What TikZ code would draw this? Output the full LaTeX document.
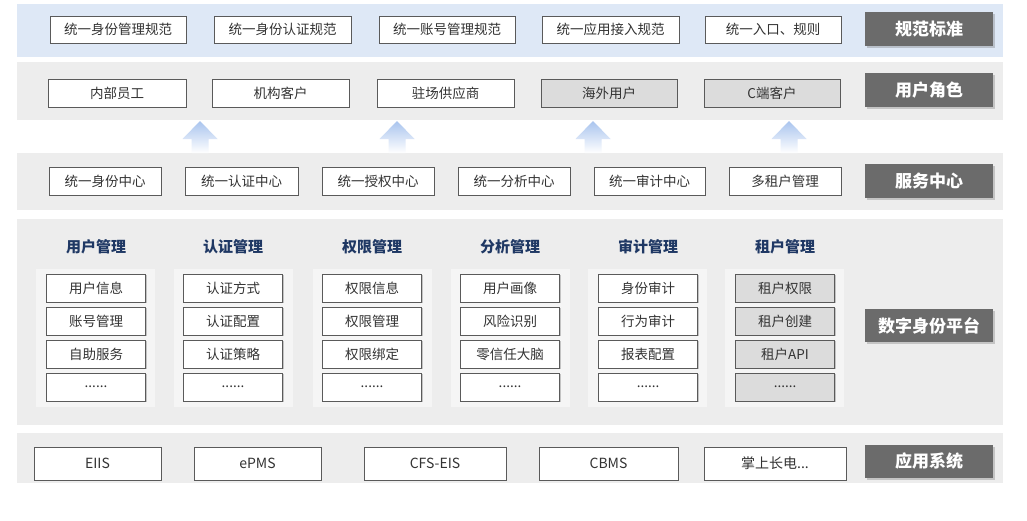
\documentclass[tikz,border=0pt]{standalone}
\usepackage{fontspec}
\setmainfont{Noto Sans CJK SC}
\usetikzlibrary{shadows}
\definecolor{bandblue}{HTML}{DEE8F6}
\definecolor{bandgray}{HTML}{EDEDED}
\definecolor{panelc}{HTML}{F5F5F5}
\definecolor{labelc}{HTML}{6B6B6B}
\definecolor{headc}{HTML}{1F3864}
\definecolor{boxline}{HTML}{5A5A5A}
\definecolor{grayfill}{HTML}{DCDCDC}
\definecolor{arrowc}{HTML}{A9C4EE}
\tikzset{
  bx/.style={draw=boxline, line width=0.8pt, fill=white, minimum height=28pt, inner sep=0pt,
    font=\fontsize{13.5}{15}\selectfont, text=black!80,
    drop shadow={shadow xshift=1.2pt, shadow yshift=-1.2pt, opacity=0.35, fill=black!60}},
  gbx/.style={bx, fill=grayfill},
  abx/.style={bx, minimum height=33pt, font=\fontsize{14}{16}\selectfont},
  lbl/.style={fill=labelc, text=white, minimum width=128pt, minimum height=34pt, inner sep=0pt,
    font=\fontsize{17}{19}\bfseries\selectfont,
    drop shadow={shadow xshift=1.5pt, shadow yshift=-1.5pt, opacity=0.3, fill=black!60}},
  head/.style={text=headc, font=\fontsize{15}{17}\bfseries\selectfont, inner sep=0pt},
  uparrow/.style={top color=arrowc, bottom color=white, draw=none}
}
\begin{document}
\begin{tikzpicture}[x=1pt,y=-1pt]
\useasboundingbox (0,0) rectangle (1027,520);
\fill[white] (0,0) rectangle (1027,520);
% bands
\fill[bandblue] (17,4) rectangle (1003,57);
\fill[bandgray] (17,62) rectangle (1003,120);
\fill[bandgray] (17,153) rectangle (1003,210);
\fill[bandgray] (17,219) rectangle (1003,425);
\fill[bandgray] (17,433) rectangle (1003,483);
% arrows
\foreach \cx in {200,397,593,789}{
  \shade[uparrow] (\cx,121) -- (\cx+17.5,139) -- (\cx+8.5,139) -- (\cx+8.5,153)
     -- (\cx-8.5,153) -- (\cx-8.5,139) -- (\cx-17.5,139) -- cycle;
}
% row 1
\node[bx, minimum width=136pt, minimum height=27pt] (s1) at (118,29.5) {统一身份管理规范};
\node[bx, minimum width=137pt, minimum height=27pt] (s2) at (282.5,29.5) {统一身份认证规范};
\node[bx, minimum width=136pt, minimum height=27pt] (s3) at (447,29.5) {统一账号管理规范};
\node[bx, minimum width=137pt, minimum height=27pt] (s4) at (610.5,29.5) {统一应用接入规范};
\node[bx, minimum width=136pt, minimum height=27pt] (s5) at (773,29.5) {统一入口、规则};
\node[lbl] (L1) at (929,29) {规范标准};
% row 2
\node[bx, minimum width=138pt] (u1) at (117,93) {内部员工};
\node[bx, minimum width=137pt] (u2) at (280.5,93) {机构客户};
\node[bx, minimum width=137pt] (u3) at (445.5,93) {驻场供应商};
\node[gbx, minimum width=136pt] (u4) at (609,93) {海外用户};
\node[gbx, minimum width=136pt] (u5) at (772,93) {C端客户};
\node[lbl] (L2) at (929,90) {用户角色};
% row 3
\node[bx, minimum width=112pt] (c1) at (105,181) {统一身份中心};
\node[bx, minimum width=113pt] (c2) at (241.5,181) {统一认证中心};
\node[bx, minimum width=112pt] (c3) at (378,181) {统一授权中心};
\node[bx, minimum width=112pt] (c4) at (514,181) {统一分析中心};
\node[bx, minimum width=111pt] (c5) at (649.5,181) {统一审计中心};
\node[bx, minimum width=112pt] (c6) at (785,181) {多租户管理};
\node[lbl] (L3) at (929,181) {服务中心};
% row 4 panels
\foreach \cx in {95.5,233,372.5,510,647.5,784.5}{
  \fill[panelc] (\cx-59.5,269) rectangle (\cx+59.5,407);
}
\node[head] (h1) at (96,247) {用户管理};
\node[head] (h2) at (233,247) {认证管理};
\node[head] (h3) at (372,247) {权限管理};
\node[head] (h4) at (510,247) {分析管理};
\node[head] (h5) at (648,247) {审计管理};
\node[head] (h6) at (785,247) {租户管理};
\node[bx, minimum width=99pt] (a1) at (96,288) {用户信息};
\node[bx, minimum width=99pt] (a2) at (96,321) {账号管理};
\node[bx, minimum width=99pt] (a3) at (96,354) {自助服务};
\node[bx, minimum width=99pt] (a4) at (96,387) {......};
\node[bx, minimum width=99pt] (b1) at (233,288) {认证方式};
\node[bx, minimum width=99pt] (b2) at (233,321) {认证配置};
\node[bx, minimum width=99pt] (b3) at (233,354) {认证策略};
\node[bx, minimum width=99pt] (b4) at (233,387) {......};
\node[bx, minimum width=99pt] (p1) at (372,288) {权限信息};
\node[bx, minimum width=99pt] (p2) at (372,321) {权限管理};
\node[bx, minimum width=99pt] (p3) at (372,354) {权限绑定};
\node[bx, minimum width=99pt] (p4) at (372,387) {......};
\node[bx, minimum width=99pt] (n1) at (510,288) {用户画像};
\node[bx, minimum width=99pt] (n2) at (510,321) {风险识别};
\node[bx, minimum width=99pt] (n3) at (510,354) {零信任大脑};
\node[bx, minimum width=99pt] (n4) at (510,387) {......};
\node[bx, minimum width=99pt] (d1) at (648,288) {身份审计};
\node[bx, minimum width=99pt] (d2) at (648,321) {行为审计};
\node[bx, minimum width=99pt] (d3) at (648,354) {报表配置};
\node[bx, minimum width=99pt] (d4) at (648,387) {......};
\node[gbx, minimum width=99pt] (t1) at (785,288) {租户权限};
\node[gbx, minimum width=99pt] (t2) at (785,321) {租户创建};
\node[gbx, minimum width=99pt] (t3) at (785,354) {租户API};
\node[gbx, minimum width=99pt] (t4) at (785,387) {......};
\node[lbl, minimum height=33pt] (L4) at (929,325.5) {数字身份平台};
% row 5
\node[abx, minimum width=127pt] (e1) at (97.5,463.5) {EIIS};
\node[abx, minimum width=127pt] (e2) at (257.5,463.5) {ePMS};
\node[abx, minimum width=142pt] (e3) at (435,463.5) {CFS-EIS};
\node[abx, minimum width=139pt] (e4) at (608.5,463.5) {CBMS};
\node[abx, minimum width=142pt] (e5) at (775,463.5) {掌上长电...};
\node[lbl, minimum height=33pt] (L5) at (929,461.5) {应用系统};
\end{tikzpicture}
\end{document}
